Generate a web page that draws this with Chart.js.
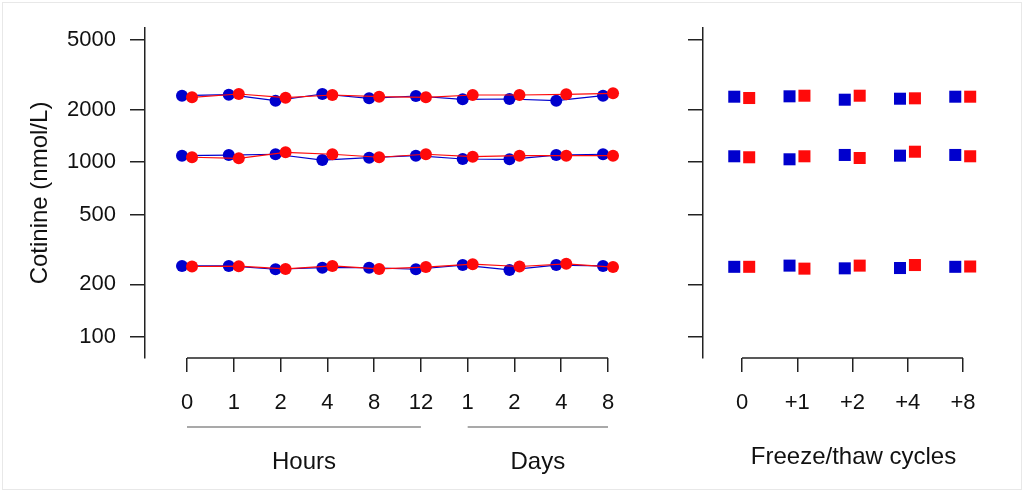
<!DOCTYPE html>
<html>
<head>
<meta charset="utf-8">
<script src="https://cdn.jsdelivr.net/npm/chart.js@4.4.1/dist/chart.umd.min.js"></script>
<style>
  html, body { margin: 0; padding: 0; background: #fff; }
  #wrap { position: relative; width: 1024px; height: 492px; overflow: hidden; }
  #frame { position: absolute; left: 2px; top: 2px; right: 2px; bottom: 2px; border: 1px solid #e8e8e8; pointer-events: none; }
  canvas { position: absolute; top: 0; }
  #left { left: 0; }
  #right { left: 640px; }
</style>
</head>
<body>
<div id="wrap">
  <canvas id="left" width="640" height="492"></canvas>
  <canvas id="right" width="384" height="492"></canvas>
  <div id="frame"></div>
</div>
<script>
// storage stability: time course (left) and freeze/thaw (right)

var TIME_LABELS = ['0', '1', '2', '4', '8', '12', '1', '2', '4', '8'];
var TIME_GROUPS = ['Hours', 'Days'];
var GROUP_START = [0, 6];
var GROUP_END   = [5, 9];

var BLUE_HIGH = [2401, 2433, 2248, 2456, 2320, 2392, 2290, 2299, 2248, 2401];
var RED_HIGH  = [2351, 2456, 2339, 2423, 2370, 2351, 2423, 2423, 2446, 2479];
var BLUE_MID  = [1089, 1099, 1110, 1029, 1061, 1089, 1043, 1039, 1099, 1110];
var RED_MID   = [1067, 1053, 1139, 1110, 1067, 1110, 1075, 1089, 1089, 1089];
var BLUE_LOW  = [255, 255, 244, 249, 249, 244, 258, 242, 258, 255];
var RED_LOW   = [253, 254, 245, 255, 245, 251, 261, 253, 262, 251];

var FT_LABELS    = ['0', '+1', '+2', '+4', '+8'];
var FT_BLUE_HIGH = [2370, 2382, 2278, 2308, 2370];
var FT_RED_HIGH  = [2329, 2401, 2401, 2320, 2370];
var FT_BLUE_MID  = [1081, 1039, 1100, 1090, 1100];
var FT_RED_MID   = [1067, 1081, 1057, 1148, 1081];
var FT_BLUE_LOW  = [252, 256, 247, 248, 252];
var FT_RED_LOW   = [252, 246, 256, 258, 253];

var Y_TICKS = [100, 200, 500, 1000, 2000, 5000];
var Y_TITLE = 'Cotinine (nmol/L)';
var FT_TITLE = 'Freeze/thaw cycles';

var BLUE = '#0000cd';
var RED = '#ff0a0a';
var AXIS = '#222';
var FONT = "'Liberation Sans', Arial, Helvetica, sans-serif";
var TICK_SIZE = 22;
var TITLE_SIZE = 24;

// points are dodged a little either side of each tick
function _points(values, shift) {
  return values.map(function(v, i) { return { x: i + shift, y: v }; });
}

function _lineSet(values, color, shift, order) {
  return {
    data: _points(values, shift),
    showLine: true,
    borderColor: color,
    borderWidth: 1.2,
    backgroundColor: color,
    pointBackgroundColor: color,
    pointBorderWidth: 0,
    pointRadius: 6,
    pointHoverRadius: 6,
    order: order,
    clip: false,
  };
}

function _squareSet(values, color, shift, order) {
  return {
    data: _points(values, shift),
    showLine: false,
    pointStyle: 'rect',
    backgroundColor: color,
    pointBackgroundColor: color,
    pointBorderWidth: 0,
    pointRadius: 8.5,
    pointHoverRadius: 8.5,
    order: order,
    clip: false,
  };
}

function _yScale(width, showLabels, withTitle) {
  return {
    type: 'logarithmic',
    min: 75.8,
    max: 5859,
    afterFit: function(s) { s.width = width; },
    afterBuildTicks: function(s) { s.ticks = Y_TICKS.map(function(v) { return { value: v }; }); },
    grid: { drawOnChartArea: false, tickLength: 15, color: AXIS, lineWidth: 1.5 },
    border: { display: true, color: AXIS, width: 1.5 },
    ticks: {
      padding: 14,
      color: '#111',
      font: { family: FONT, size: TICK_SIZE },
      callback: function(v) { return showLabels ? String(v) : ''; },
    },
    title: {
      display: withTitle,
      text: Y_TITLE,
      color: '#111',
      font: { family: FONT, size: TITLE_SIZE },
      padding: { top: 26, bottom: 0 },
    },
  };
}

function _xScale(labels, min, max, title) {
  return {
    type: 'linear',
    min: min,
    max: max,
    afterFit: function(s) { s.height = 134; },
    afterBuildTicks: function(s) { s.ticks = labels.map(function(l, i) { return { value: i }; }); },
    grid: { drawOnChartArea: false, tickLength: 14, color: AXIS, lineWidth: 1.5 },
    border: { display: false },
    ticks: {
      padding: 18,
      color: '#111',
      autoSkip: false,
      maxRotation: 0,
      font: { family: FONT, size: TICK_SIZE },
      callback: function(v) { return labels[v]; },
    },
    title: {
      display: !!title,
      text: title || '',
      color: '#111',
      font: { family: FONT, size: TITLE_SIZE },
      padding: { top: 20, bottom: 20 },
    },
  };
}

// x axis line runs from first to last tick, plus the Hours/Days brackets
var axisPlugin = {
  id: 'axisLine',
  afterDraw: function(chart, args, opts) {
    var x = chart.scales.x;
    var ctx = chart.ctx;
    var n = opts.count;
    ctx.save();
    ctx.strokeStyle = AXIS;
    ctx.lineWidth = 1.5;
    ctx.beginPath();
    ctx.moveTo(x.getPixelForValue(0), x.top);
    ctx.lineTo(x.getPixelForValue(n - 1), x.top);
    ctx.stroke();

    (opts.groups || []).forEach(function(g, i) {
      var a = x.getPixelForValue(opts.start[i]);
      var b = x.getPixelForValue(opts.end[i]);
      ctx.strokeStyle = '#8c8c8c';
      ctx.lineWidth = 1.5;
      ctx.beginPath();
      ctx.moveTo(a, x.top + 69);
      ctx.lineTo(b, x.top + 69);
      ctx.stroke();
      ctx.fillStyle = '#111';
      ctx.font = TITLE_SIZE + 'px ' + FONT;
      ctx.textAlign = 'center';
      ctx.textBaseline = 'middle';
      ctx.fillText(g, (a + b) / 2, x.top + 104);
    });
    ctx.restore();
  },
};

var baseOptions = function(padRight) {
  return {
    responsive: false,
    animation: false,
    events: [],
    layout: { padding: { top: 28, right: padRight, left: 0, bottom: 0 } },
    plugins: { legend: { display: false }, tooltip: { enabled: false } },
  };
};

var leftOpts = baseOptions(20);
leftOpts.scales = {
  x: _xScale(TIME_LABELS, -0.898, 9.256, null),
  y: _yScale(145, true, true),
};
leftOpts.plugins.axisLine = { count: TIME_LABELS.length, groups: TIME_GROUPS, start: GROUP_START, end: GROUP_END };

new Chart(document.getElementById('left'), {
  type: 'scatter',
  data: {
    datasets: [
      _lineSet(RED_HIGH, RED, 0.107, 0),
      _lineSet(RED_MID, RED, 0.107, 0),
      _lineSet(RED_LOW, RED, 0.107, 0),
      _lineSet(BLUE_HIGH, BLUE, -0.107, 1),
      _lineSet(BLUE_MID, BLUE, -0.107, 1),
      _lineSet(BLUE_LOW, BLUE, -0.107, 1),
    ],
  },
  options: leftOpts,
  plugins: [axisPlugin],
});

var rightOpts = baseOptions(20);
rightOpts.scales = {
  x: _xScale(FT_LABELS, -0.706, 4.742, FT_TITLE),
  y: _yScale(63, false, false),
};
rightOpts.plugins.axisLine = { count: FT_LABELS.length };

new Chart(document.getElementById('right'), {
  type: 'scatter',
  data: {
    datasets: [
      _squareSet(FT_RED_HIGH, RED, 0.13, 0),
      _squareSet(FT_RED_MID, RED, 0.13, 0),
      _squareSet(FT_RED_LOW, RED, 0.13, 0),
      _squareSet(FT_BLUE_HIGH, BLUE, -0.14, 1),
      _squareSet(FT_BLUE_MID, BLUE, -0.14, 1),
      _squareSet(FT_BLUE_LOW, BLUE, -0.14, 1),
    ],
  },
  options: rightOpts,
  plugins: [axisPlugin],
});
</script>
</body>
</html>
